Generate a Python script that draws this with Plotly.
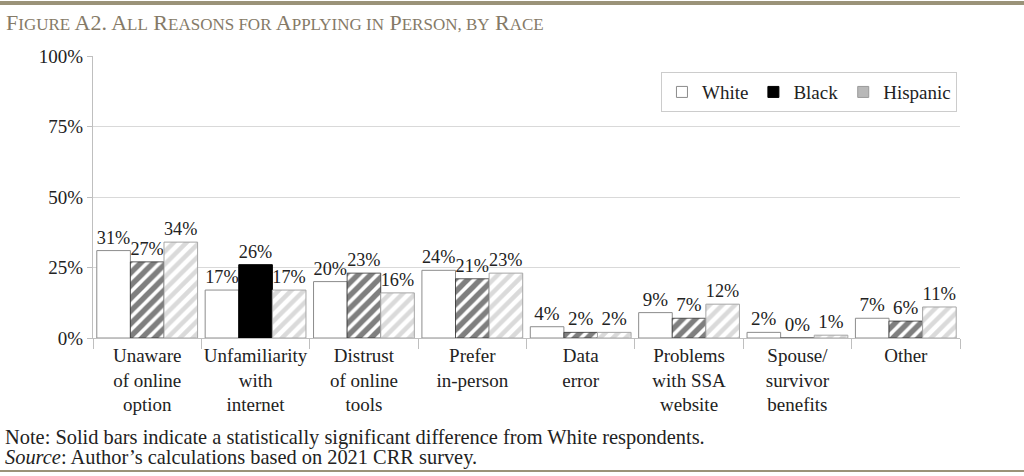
import plotly.graph_objects as go

categories = ["Unaware<br>of online<br>option", "Unfamiliarity<br>with<br>internet", "Distrust<br>of online<br>tools",
              "Prefer<br>in-person", "Data<br>error", "Problems<br>with SSA<br>website", "Spouse/<br>survivor<br>benefits", "Other"]
white_vals = [31, 17, 20, 24, 4, 9, 2, 7]
black_vals = [27, 26, 23, 21, 2, 7, 0, 6]
hispanic_vals = [34, 17, 16, 23, 2, 12, 1, 11]
black_significant = [False, True, False, False, False, False, False, False]

SERIF = "Liberation Serif, DejaVu Serif, serif"
TXT = "#222222"
FS = 19

fig = go.Figure()

def lbl(vals):
    return [None if v is None else f"{v}%" for v in vals]

fig.add_trace(go.Bar(
    x=categories, y=white_vals, name="White", showlegend=False, offsetgroup="w",
    marker=dict(color="white", line=dict(color="#8c8c8c", width=1)),
    text=lbl(white_vals), textposition="outside",
    textfont=dict(family=SERIF, size=FS, color=TXT), cliponaxis=False,
))
# Black: striped (not significant) and solid (significant) share one slot
b_str = [None if s else v for v, s in zip(black_vals, black_significant)]
b_sol = [v if s else None for v, s in zip(black_vals, black_significant)]
fig.add_trace(go.Bar(
    x=categories, y=b_str, name="Black", showlegend=False, offsetgroup="b",
    marker=dict(color="white", line=dict(color="#333333", width=0.8),
                pattern=dict(shape="/", fgcolor="black", bgcolor="white", size=9, solidity=0.6)),
    text=lbl(b_str), textposition="outside",
    textfont=dict(family=SERIF, size=FS, color=TXT), cliponaxis=False,
))
fig.add_trace(go.Bar(
    x=categories, y=b_sol, name="Black sig", showlegend=False, offsetgroup="b",
    marker=dict(color="black", line=dict(color="black", width=1)),
    text=lbl(b_sol), textposition="outside",
    textfont=dict(family=SERIF, size=FS, color=TXT), cliponaxis=False,
))
fig.add_trace(go.Bar(
    x=categories, y=hispanic_vals, name="Hispanic", showlegend=False, offsetgroup="h",
    marker=dict(color="white", line=dict(color="#a6a6a6", width=1),
                pattern=dict(shape="/", fgcolor="#b5b5b5", bgcolor="white", size=9, solidity=0.5)),
    text=lbl(hispanic_vals), textposition="outside",
    textfont=dict(family=SERIF, size=FS, color=TXT), cliponaxis=False,
))

# legend entries (solid swatches)
for nm, col, lc in [("White", "white", "#8c8c8c"), ("Black", "black", "black"), ("Hispanic", "#b8b8b8", "#9a9a9a")]:
    fig.add_trace(go.Scatter(x=[None], y=[None], mode="markers", name=nm,
                             marker=dict(symbol="square", size=11, color=col, line=dict(color=lc, width=1))))

fig.update_layout(
    width=1024, height=476,
    paper_bgcolor="white", plot_bgcolor="white",
    margin=dict(l=93, r=64, t=56, b=138),
    barmode="group", bargap=0.07, bargroupgap=0,
    font=dict(family=SERIF, size=FS, color=TXT),
    showlegend=True,
    legend=dict(orientation="h", x=0.9965, xanchor="right", y=0.943, yanchor="top",
                bordercolor="#cccccc", borderwidth=1, bgcolor="white",
                font=dict(family=SERIF, size=FS, color=TXT),
                itemwidth=30, tracegroupgap=0, entrywidth=0),
    yaxis=dict(range=[0, 100], dtick=25, ticksuffix="%", showgrid=True, gridcolor="#d9d9d9",
               showline=True, linecolor="#bfbfbf", ticks="outside", ticklen=5, tickcolor="#bfbfbf",
               zeroline=False, tickfont=dict(family=SERIF, size=FS, color=TXT)),
    xaxis=dict(showline=True, linecolor="#bfbfbf", ticks="outside", tickson="boundaries",
               ticklen=10, tickcolor="#bfbfbf", tickangle=0,
               tickfont=dict(family=SERIF, size=FS, color=TXT)),
)

sc = "font-size:17px"
title = (f"F<span style='{sc}'>IGURE</span> A2. A<span style='{sc}'>LL</span> "
         f"R<span style='{sc}'>EASONS FOR</span> A<span style='{sc}'>PPLYING IN</span> "
         f"P<span style='{sc}'>ERSON, BY</span> R<span style='{sc}'>ACE</span>")
fig.add_annotation(text=title, xref="paper", yref="paper", x=0, xanchor="left",
                   y=1, yanchor="middle", showarrow=False, xshift=-89, yshift=56 - 22,
                   font=dict(family=SERIF, size=22, color="#857a67"))
fig.add_shape(type="line", xref="paper", yref="paper", x0=-93/867, x1=1 + 64/867,
              y0=1 + (56 - 3) / 282, y1=1 + (56 - 3) / 282, line=dict(color="#9b9379", width=4))
fig.add_shape(type="line", xref="paper", yref="paper", x0=-93/867, x1=1 + 64/867,
              y0=-(471 - 338) / 282, y1=-(471 - 338) / 282, line=dict(color="#9b9379", width=2))
fig.add_annotation(text="Note: Solid bars indicate a statistically significant difference from White respondents.",
                   xref="paper", yref="paper", x=0, xanchor="left", y=0, yanchor="middle",
                   xshift=-90, yshift=-(437 - 338), showarrow=False,
                   font=dict(family=SERIF, size=20.4, color=TXT))
fig.add_annotation(text="<i>Source</i>: Author’s calculations based on 2021 CRR survey.",
                   xref="paper", yref="paper", x=0, xanchor="left", y=0, yanchor="middle",
                   xshift=-90, yshift=-(457 - 338), showarrow=False,
                   font=dict(family=SERIF, size=20.4, color=TXT))

fig.write_html("out.html", config={"displayModeBar": False},
               post_script="document.body.style.margin='0';")
